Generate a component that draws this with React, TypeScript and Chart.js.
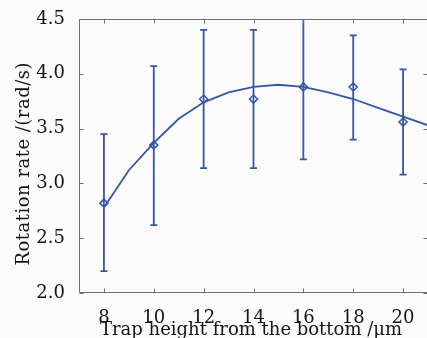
import { useEffect, useRef } from 'react';
import { Chart, registerables } from 'chart.js';

Chart.register(...registerables);

// Measured points (mean ± error)
const heights = [8, 10, 12, 14, 16, 18, 20];
const rates = [2.82, 3.35, 3.77, 3.77, 3.88, 3.88, 3.56];
const upperRates = [3.45, 4.07, 4.40, 4.40, 4.54, 4.35, 4.04];
const lowerRates = [2.20, 2.62, 3.14, 3.14, 3.22, 3.40, 3.08];

// Fitted curve
const fitHeights = [8, 9, 10, 11, 12, 13, 14, 15, 16, 17, 18, 19, 20, 21];
const fitRates = [2.78, 3.12, 3.37, 3.59, 3.74, 3.83, 3.88, 3.90, 3.88, 3.83, 3.77, 3.69, 3.61, 3.53];

const xTicks = [8, 10, 12, 14, 16, 18, 20];
const yTicks = [2.0, 2.5, 3.0, 3.5, 4.0, 4.5];

const xTitle = 'Trap height from the bottom /\u03bcm';
const yTitle = 'Rotation rate /(rad/s)';

const BLUE = '#3457a7';
const AXIS = '#6e6e6e';
const TEXT = '#141414';
const BG = '#fbfbfb';
const FONT = "'DejaVu Serif', serif";

const background = {
  id: 'background',
  beforeDraw(chart: any) {
    const { ctx, width, height } = chart;
    ctx.save();
    ctx.fillStyle = BG;
    ctx.fillRect(0, 0, width, height);
    ctx.restore();
  },
};

const errorBars = {
  id: 'errorBars',
  beforeDatasetsDraw(chart: any) {
    const { ctx, chartArea: a, scales } = chart;
    const x = scales.x;
    const y = scales.y;
    ctx.save();
    ctx.beginPath();
    ctx.rect(a.left, a.top, a.right - a.left, a.bottom - a.top);
    ctx.clip();
    ctx.strokeStyle = BLUE;
    ctx.lineWidth = 1.8;
    heights.forEach((h, i) => {
      const px = x.getPixelForValue(h);
      const t = y.getPixelForValue(upperRates[i]);
      const b = y.getPixelForValue(lowerRates[i]);
      ctx.beginPath();
      ctx.moveTo(px, t);
      ctx.lineTo(px, b);
      ctx.moveTo(px - 3.5, t);
      ctx.lineTo(px + 3.5, t);
      ctx.moveTo(px - 3.5, b);
      ctx.lineTo(px + 3.5, b);
      ctx.stroke();
    });
    ctx.restore();
  },
};

function drawSpacedText(ctx: any, text: string, target: number) {
  ctx.letterSpacing = '0px';
  const n = Array.from(text).length;
  const w = ctx.measureText(text).width;
  const ls = n > 1 ? (target - w) / (n - 1) : 0;
  ctx.letterSpacing = `${ls.toFixed(2)}px`;
  ctx.textAlign = 'left';
  ctx.textBaseline = 'alphabetic';
  ctx.fillText(text, -target / 2, 0);
  ctx.letterSpacing = '0px';
}

const frame = {
  id: 'frame',
  afterDraw(chart: any) {
    const { ctx, chartArea: a, scales } = chart;
    const x = scales.x;
    const y = scales.y;
    const L = Math.round(a.left) + 0.5;
    const R = Math.round(a.right) - 0.5;
    const T = Math.round(a.top) + 0.5;
    const B = Math.round(a.bottom) - 0.5;
    const tl = 4;
    ctx.save();
    ctx.strokeStyle = AXIS;
    ctx.lineWidth = 1;
    ctx.beginPath();
    ctx.moveTo(L, T);
    ctx.lineTo(R, T);
    ctx.lineTo(R, B);
    ctx.lineTo(L, B);
    ctx.closePath();
    xTicks.forEach((v) => {
      const px = Math.round(x.getPixelForValue(v)) + 0.5;
      ctx.moveTo(px, B);
      ctx.lineTo(px, B - tl);
      ctx.moveTo(px, T);
      ctx.lineTo(px, T + tl);
    });
    yTicks.forEach((v) => {
      const py = Math.round(y.getPixelForValue(v)) + 0.5;
      ctx.moveTo(L, py);
      ctx.lineTo(L + tl, py);
      ctx.moveTo(R, py);
      ctx.lineTo(R - tl, py);
    });
    ctx.stroke();
    ctx.restore();

    // axis titles
    ctx.save();
    ctx.fillStyle = TEXT;
    ctx.font = `18px ${FONT}`;
    ctx.save();
    ctx.translate(251, 335);
    drawSpacedText(ctx, xTitle, 302);
    ctx.restore();
    ctx.save();
    ctx.translate(29, 164);
    ctx.rotate(-Math.PI / 2);
    drawSpacedText(ctx, yTitle, 203);
    ctx.restore();
    ctx.restore();
  },
};

export default function App() {
  const canvasRef = useRef<HTMLCanvasElement | null>(null);

  useEffect(() => {
    const canvas = canvasRef.current;
    if (!canvas) return;
    const chart = new Chart(canvas, {
      type: 'line',
      data: {
        datasets: [
          {
            label: 'fit',
            data: fitHeights.map((h, i) => ({ x: h, y: fitRates[i] })),
            borderColor: BLUE,
            borderWidth: 1.8,
            pointRadius: 0,
            tension: 0,
            fill: false,
          },
          {
            label: 'measured',
            data: heights.map((h, i) => ({ x: h, y: rates[i] })),
            showLine: false,
            pointStyle: 'rectRot',
            pointRadius: 4,
            pointBorderWidth: 1.6,
            borderColor: BLUE,
            backgroundColor: 'rgba(0,0,0,0)',
          },
        ],
      },
      options: {
        animation: false,
        responsive: false,
        devicePixelRatio: 1,
        layout: { autoPadding: false, padding: { top: 19, left: 0, right: 0, bottom: 0 } },
        plugins: {
          legend: { display: false },
          tooltip: { enabled: false },
        },
        scales: {
          x: {
            type: 'linear',
            min: 7,
            max: 21,
            afterBuildTicks: (scale: any) => {
              scale.ticks = xTicks.map((v) => ({ value: v }));
            },
            afterFit: (scale: any) => {
              scale.height = 45;
              scale.paddingLeft = 0;
              scale.paddingRight = 0;
            },
            grid: { display: false },
            border: { display: false },
            ticks: {
              padding: 7,
              color: TEXT,
              font: { family: FONT, size: 18 },
              maxRotation: 0,
              callback: (v: any) => String(v),
            },
            title: { display: false },
          },
          y: {
            type: 'linear',
            min: 2,
            max: 4.5,
            afterBuildTicks: (scale: any) => {
              scale.ticks = yTicks.map((v) => ({ value: v }));
            },
            afterFit: (scale: any) => {
              scale.width = 79;
              scale.paddingTop = 0;
              scale.paddingBottom = 0;
            },
            grid: { display: false },
            border: { display: false },
            ticks: {
              padding: 6,
              color: TEXT,
              font: { family: FONT, size: 18 },
              callback: (v: any) => Number(v).toFixed(1),
            },
            title: { display: false },
          },
        },
      },
      plugins: [background, errorBars, frame],
    });
    return () => chart.destroy();
  }, []);

  return (
    <div
      style={{
        position: 'fixed',
        left: 0,
        top: 0,
        width: 427,
        height: 338,
        overflow: 'hidden',
        background: BG,
      }}
    >
      <canvas ref={canvasRef} width={428} height={338} style={{ display: 'block', width: 428, height: 338 }} />
    </div>
  );
}
